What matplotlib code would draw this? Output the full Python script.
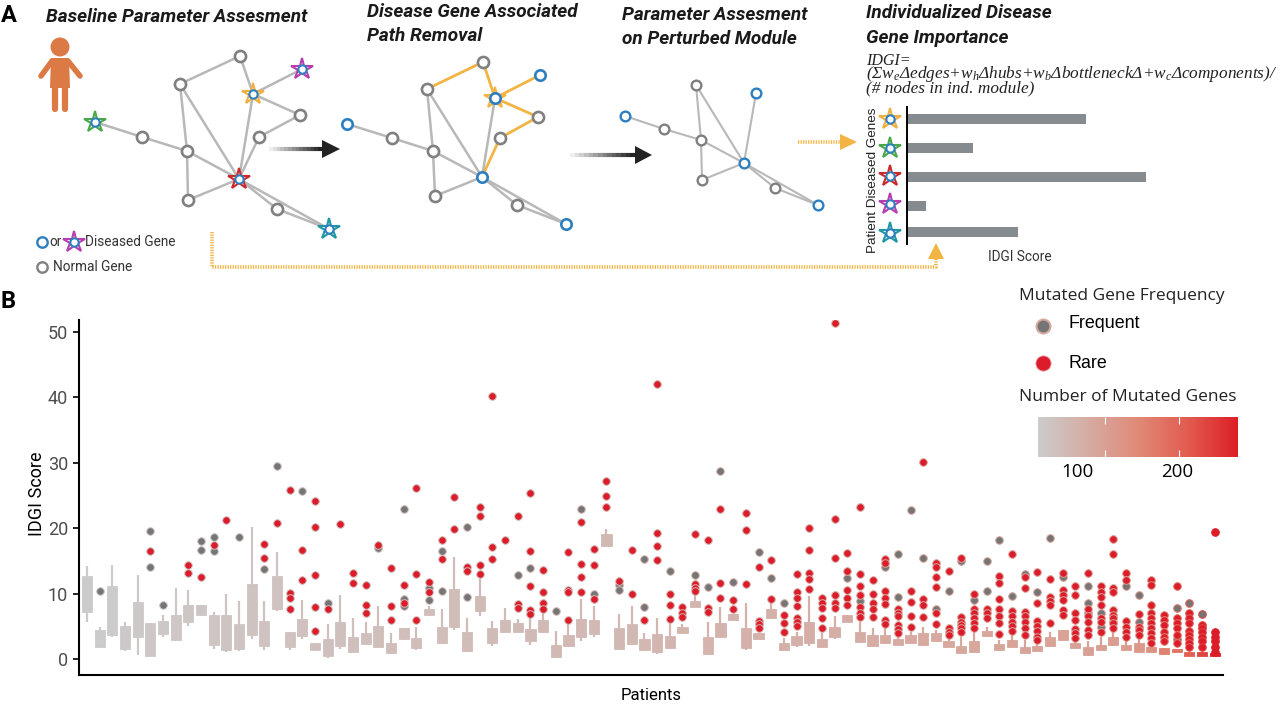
import matplotlib
matplotlib.use('Agg')
import matplotlib.pyplot as plt
import numpy as np
from matplotlib.colors import LinearSegmentedColormap
from matplotlib.patches import Circle, Polygon

plt.rcParams['font.family'] = ['Roboto', 'DejaVu Sans']
plt.rcParams['mathtext.fontset'] = 'custom'
plt.rcParams['mathtext.rm'] = 'Liberation Serif:italic'
plt.rcParams['mathtext.it'] = 'Liberation Serif:italic'
plt.rcParams['mathtext.default'] = 'it'

#=======================
#Patient data
#=======================

box_q3 = [12.7, 4.4, 11.1, 5.0, 8.7, 5.5, 5.8, 6.7, 8.2, 8.3,
          6.7, 6.8, 5.4, 11.5, 5.8, 12.7, 4.1, 6.1, 2.4, 3.1,
          5.7, 3.3, 3.9, 5.0, 2.5, 4.8, 3.2, 7.7, 4.9, 10.7,
          4.2, 9.7, 4.8, 5.9, 5.5, 4.6, 5.9, 2.1, 3.7, 6.1,
          5.9, 19.1, 4.7, 5.4, 3.0, 3.8, 3.5, 4.9, 8.9, 3.4,
          5.5, 6.9, 4.8, 4.0, 7.6, 2.5, 3.5, 5.6, 3.1, 4.9,
          6.8, 4.2, 3.7, 3.7, 3.1, 3.6, 3.9, 3.9, 2.7, 2.0,
          2.8, 4.3, 2.3, 2.9, 1.9, 2.0, 3.4, 4.4, 2.4, 1.8,
          2.2, 3.4, 2.2, 2.4, 1.8, 1.7, 1.6, 1.1, 1.0, 0.9]
box_q1 = [7.2, 1.9, 3.6, 1.5, 3.3, 0.4, 3.8, 2.9, 5.6, 6.8,
          2.2, 1.3, 1.6, 3.6, 2.0, 7.7, 1.8, 3.5, 1.3, 0.4,
          2.0, 1.0, 2.3, 1.9, 0.9, 3.1, 1.7, 6.7, 2.4, 4.9,
          1.2, 7.3, 2.4, 4.1, 4.1, 2.8, 4.2, 0.3, 2.0, 3.4,
          3.8, 17.3, 1.5, 2.3, 1.3, 1.1, 1.7, 3.9, 7.9, 0.8,
          3.4, 6.0, 1.7, 3.1, 6.2, 1.4, 2.1, 2.4, 1.9, 3.4,
          5.7, 2.6, 2.0, 2.5, 2.1, 2.5, 2.1, 2.8, 1.8, 0.9,
          1.1, 3.5, 1.4, 1.8, 0.9, 1.2, 2.0, 2.9, 1.7, 0.6,
          1.3, 2.1, 1.3, 1.1, 1.1, 0.7, 1.0, 0.4, 0.5, 0.4]
whisk_hi = [14.2, 4.9, 14.4, 5.6, 12.8, 5.5, 6.8, 10.8, 10.6, 8.3,
            7.2, 9.9, 8.9, 20.2, 8.9, 16.4, 4.1, 9.0, 2.4, 5.3,
            9.8, 6.3, 5.7, 8.1, 4.0, 4.8, 4.9, 8.1, 7.7, 15.6,
            6.2, 12.3, 5.8, 7.8, 6.1, 6.5, 7.2, 4.3, 5.6, 9.2,
            8.1, 19.9, 6.9, 8.1, 3.9, 6.2, 5.5, 5.4, 9.9, 5.7,
            7.9, 6.9, 8.6, 4.0, 8.5, 3.2, 4.1, 9.7, 4.0, 6.5,
            6.8, 5.7, 4.7, 4.9, 3.4, 4.2, 4.9, 4.5, 3.2, 3.3,
            4.2, 4.9, 2.9, 3.7, 2.9, 2.9, 4.2, 4.4, 2.9, 2.7,
            3.4, 4.4, 2.9, 3.4, 1.8, 1.7, 1.6, 1.1, 1.0, 0.9]
whisk_lo = [5.6, 1.8, 3.4, 1.2, 0.6, 0.4, 3.3, 2.7, 5.0, 6.6,
            1.6, 1.0, 1.2, 3.0, 1.4, 7.4, 1.4, 3.1, 1.3, 0.1,
            1.5, 1.0, 2.1, 1.8, 0.8, 2.9, 1.3, 6.7, 2.3, 4.5,
            1.1, 6.6, 2.0, 4.1, 4.1, 2.1, 4.0, 0.3, 2.0, 2.8,
            3.4, 17.3, 1.5, 2.2, 1.3, 0.8, 1.7, 3.9, 7.9, 0.8,
            3.2, 6.0, 1.4, 3.1, 6.2, 1.4, 1.8, 2.0, 1.9, 3.1,
            5.7, 2.6, 1.8, 2.5, 2.1, 2.5, 2.0, 2.8, 1.8, 0.9,
            1.0, 3.5, 1.4, 1.8, 0.9, 1.2, 2.0, 2.9, 1.7, 0.5,
            1.3, 2.0, 1.3, 1.0, 1.1, 0.6, 1.0, 0.4, 0.5, 0.4]
rare_genes = [
    [], [], [], [], [], [16.5], [], [], [14.3, 13.1], [12.5],
    [17.5], [21.3], [], [], [17.6, 15.5], [20.8], [25.8, 10.1, 9.4, 7.7], [16.7, 12.1],
    [24.2, 20.2, 12.9, 8.0, 4.3], [7.7],
    [20.7], [13.1, 11.6], [11.3, 8.3, 7.0], [17.5], [13.9, 8.1, 6.0], [11.3, 8.5],
    [26.1, 13.0, 6.0], [11.8, 10.3], [18.2, 15.3], [24.8, 19.9],
    [14.1, 13.5], [23.2, 21.9, 14.3, 13.0], [40.2, 17.2, 15.3], [18.2], [21.9, 8.4, 7.8],
    [25.4, 16.5, 11.1, 7.5, 6.9], [13.6, 10.2, 8.6, 7.7], [], [16.3, 10.5, 10.2, 6.0],
    [21.0, 14.5, 12.5, 10.2],
    [16.8, 14.3, 9.1], [27.3, 25.0, 23.3], [12.0], [16.6, 9.9], [6.0], [42.0, 19.3, 17.3, 15.1],
    [10.0, 8.2, 6.1], [7.9, 7.1, 6.4], [19.1, 11.4, 10.9, 10.4], [18.2, 7.8, 7.2],
    [23.0, 11.6, 9.3], [9.0, 7.7], [22.3, 19.8, 11.5], [14.1, 5.8, 5.4, 4.8], [15.1, 9.2],
    [6.7, 5.5, 4.1], [13.0, 10.3, 9.4, 8.1, 6.2, 5.6, 5.0], [20.0, 16.7, 13.2, 12.3, 10.7],
    [9.4, 8.6, 7.8, 6.2, 4.8], [51.4, 21.4, 15.5, 9.8, 8.5, 7.8],
    [16.2, 13.4, 10.6, 9.4, 8.2], [23.2, 13.0, 11.2, 9.8, 8.0, 7.1, 6.4],
    [12.1, 10.0, 8.6, 7.6, 6.4], [15.3, 14.7, 10.4, 9.3, 8.4, 6.0, 5.4],
    [7.7, 7.0, 6.5, 5.2, 4.6, 4.0], [10.4, 8.7, 6.6, 4.9], [30.1, 9.2, 8.2, 6.4],
    [14.7, 14.1, 12.5, 11.0, 7.0, 5.4], [13.4, 4.7, 4.2, 3.7], [15.5, 6.4, 5.7, 5.2, 4.7, 4.2],
    [10.0, 7.7, 7.0, 6.2, 5.5, 4.8], [7.7, 7.0, 6.2], [12.7, 11.6, 9.2, 7.6, 6.5, 5.5, 3.8],
    [16.0, 7.3, 6.5, 5.7, 5.0, 4.3], [12.6, 10.8, 7.2, 6.5, 5.7, 4.8, 3.7],
    [13.3, 8.5, 5.8, 5.0, 4.3, 3.4, 2.9], [12.2, 9.5, 8.8, 8.2, 5.5],
    [13.2, 10.6, 9.8, 9.0, 7.5, 6.7], [11.2, 9.8, 7.0, 5.9, 4.6, 3.9, 3.2],
    [13.1, 7.7, 6.5, 5.7, 4.4, 3.7],
    [11.1, 10.3, 9.5, 8.3, 6.2, 5.6, 4.2], [18.3, 16.1, 10.8, 10.3, 7.5, 6.7, 6.2, 5.5, 4.8],
    [13.2, 12.1, 5.8, 4.9, 4.2, 3.4], [6.9, 4.9, 4.4, 3.7],
    [12.1, 11.3, 8.2, 7.0, 6.2, 5.5, 4.7, 3.9, 3.2, 2.4],
    [6.7, 6.0, 5.2, 4.2, 3.4, 2.7], [11.2, 6.2, 5.5, 4.7, 3.7, 2.4],
    [7.0, 6.2, 5.5, 4.3, 3.7, 3.0, 2.4, 1.8], [5.2, 4.7, 4.2, 3.4, 2.7, 1.9],
    [19.4, 4.1, 3.4, 2.7, 1.9, 1.1]]
frequent_genes = [
    [], [10.4], [], [], [], [19.5, 14.1], [8.3], [], [], [18.0, 16.6],
    [18.6, 16.5], [], [18.7], [], [13.8], [29.5], [], [25.7], [], [8.5],
    [], [], [], [17.0], [], [22.9, 9.1, 8.1], [], [10.9, 9.0], [16.5, 10.4], [],
    [20.2, 9.5], [], [], [], [12.8], [13.9], [], [7.4], [], [23.0],
    [10.0], [], [11.3, 10.5], [], [15.3, 8.0], [], [13.4], [], [12.8], [11.0],
    [28.8], [11.7], [], [16.4], [12.4], [8.5], [], [], [], [],
    [12.4], [8.9], [], [14.1], [16.0, 9.5], [22.8], [15.4], [7.7], [10.4], [15.0],
    [9.0], [15.0, 10.4], [18.2], [9.6], [13.0], [10.3], [18.5], [12.6], [], [11.1, 8.6, 7.0],
    [7.0, 4.9], [5.7], [11.1], [9.8, 5.7], [], [], [7.8, 3.1], [8.6], [6.9], []]
n_genes = [62, 63, 64, 65, 66, 67, 68, 69, 70, 71,
           72, 73, 74, 75, 76, 76, 77, 78, 79, 80,
           80, 81, 82, 83, 83, 84, 84, 85, 85, 86,
           86, 87, 87, 88, 88, 89, 89, 90, 90, 91,
           91, 92, 93, 93, 94, 95, 96, 97, 98, 99,
           100, 100, 101, 102, 103, 104, 105, 106, 107, 108,
           109, 110, 111, 112, 113, 114, 115, 116, 117, 118,
           119, 120, 121, 122, 123, 124, 125, 126, 127, 128,
           130, 132, 135, 140, 150, 170, 185, 205, 230, 261]

#=======================
#Network drawings of panel A, in image pixels
#=======================

net1 = {'a': (240, 56), 'b': (180, 84), 'c': (253, 94), 'd': (302, 69), 'e': (300, 115),
        'f': (259, 137), 'g': (95, 122), 'h': (142, 137), 'i': (187, 151), 'j': (239, 179),
        'k': (188, 200), 'l': (277, 209), 'm': (329, 229)}
net2 = {'a': (483, 62), 'b': (427, 89), 'c': (495, 98), 'd': (540, 75), 'e': (538, 117),
        'f': (500, 138), 'g': (347, 124), 'h': (392, 138), 'i': (433, 151), 'j': (482, 177),
        'k': (435, 196), 'l': (517, 205), 'm': (566, 224)}
net3 = {'b': (696, 85), 'd': (756, 93), 'g': (625, 116), 'h': (664, 129), 'i': (701, 140),
        'j': (744, 163), 'k': (702, 180), 'l': (775, 188), 'm': (818, 205)}
removed_edges = ['ab', 'ac', 'cd', 'ce', 'ef', 'fj']
kept_edges = ['bi', 'gh', 'hi', 'ij', 'ik', 'kj', 'jl', 'lm', 'jm', 'bj']
star_colors = {'c': '#f0b040', 'd': '#b83db0', 'g': '#4aa84a', 'j': '#c92a2e', 'm': '#1f97a5'}
disease_nodes = ['c', 'd', 'g', 'j', 'm']

idgi_order = ['c', 'g', 'j', 'd', 'm']
idgi_scores = [179, 66, 239, 19, 111]
idgi_rows = [119, 148, 177, 206, 232]

GRAY_NODE = '#808080'
BLUE = '#2e7fbf'
EDGE = '#b8b8b8'
ORANGE = '#f2b544'
W, H = 1280, 705

cmap = LinearSegmentedColormap.from_list(
    'genes', ['#cccccc', '#d6aca3', '#e08a78', '#e25c50', '#dc1f26'])


def px_axes(x0, y0, x1, y1):
    return fig.add_axes([x0 / W, 1 - y1 / H, (x1 - x0) / W, (y1 - y0) / H])


def node(ax, xy, color=GRAY_NODE, size=8, mew=1.9):
    ax.plot(*xy, 'o', ms=size, mfc='white', mec=color, mew=mew, zorder=5)


def star(ax, xy, color, size=16):
    ax.plot(*xy, '*', ms=size, mfc='white', mec=color, mew=1.5, zorder=4)
    node(ax, xy, BLUE, 6, 1.5)


def draw_edges(ax, net, edges, color=EDGE, lw=1.8):
    for e in edges:
        p, q = net[e[0]], net[e[1]]
        ax.plot([p[0], q[0]], [p[1], q[1]], color=color, lw=lw, zorder=2, solid_capstyle='round')


def black_arrow(ax, x0, x1, head_x, y):
    steps = np.linspace(x0, head_x, 15)
    for k in range(14):
        ax.plot(steps[k:k + 2], [y, y], color='#222222', lw=3, alpha=(k + 1) / 14,
                solid_capstyle='butt')
    ax.add_patch(Polygon([(head_x, y - 9), (x1, y), (head_x, y + 9)], color='#222222', lw=0))


fig = plt.figure(figsize=(12.8, 7.05), dpi=100)

#=======================
#Panel B
#=======================

ax = px_axes(79, 320, 1223, 675)
patients = np.arange(len(box_q3))
colors = cmap((np.array(n_genes) - 61) / 200)

ax.vlines(patients, whisk_lo, whisk_hi, color=colors, lw=1.6, zorder=1)
ax.bar(patients, np.array(box_q3) - np.array(box_q1), bottom=box_q1, width=0.8,
       color=colors, edgecolor=colors, lw=0.6, zorder=2)
for i in patients:
    if frequent_genes[i]:
        ax.scatter([i] * len(frequent_genes[i]), frequent_genes[i], s=30, color='#757575',
                   edgecolor=colors[i], lw=0.7, zorder=3)
for i in patients:
    if rare_genes[i]:
        ax.scatter([i] * len(rare_genes[i]), rare_genes[i], s=30, color='#dc1c2a',
                   edgecolor=colors[i], lw=0.7, zorder=4)

ax.set_xlim(-0.63, 89.66)
ax.set_ylim(-2.45, 51.85)
ax.set_xticks([])
ax.set_yticks([0, 10, 20, 30, 40, 50])
ax.tick_params(axis='y', labelsize=13, labelcolor='#4d4d4d', length=4, width=1.2, pad=4)
for side in ['top', 'right']:
    ax.spines[side].set_visible(False)
for side in ['left', 'bottom']:
    ax.spines[side].set_linewidth(1.5)
ax.set_xlabel('Patients', fontsize=12, labelpad=9)
ax.set_ylabel('IDGI Score', fontsize=13, labelpad=1, y=0.51)

# colour bar legend
cax = px_axes(1038, 417, 1238, 457)
cax.imshow(np.linspace(0, 1, 256)[None, :], cmap=cmap, aspect='auto', extent=[61, 261, 0, 1])
cax.vlines([128, 202], 0, 0.18, color='white', lw=0.8)
cax.vlines([128, 202], 0.82, 1, color='white', lw=0.8)
cax.set_yticks([])
cax.set_xticks([100, 200])
cax.set_xticklabels(['100', '200'], fontsize=13.5, family=['Open Sans'])
cax.tick_params(axis='x', length=0, pad=4)
for s in cax.spines.values():
    s.set_visible(False)

#=======================
#Panel A, drawn on a pixel overlay
#=======================

ov = fig.add_axes([0, 0, 1, 1], facecolor='none')
ov.set_xlim(0, W)
ov.set_ylim(H, 0)
ov.axis('off')

# person
skin = '#dc7a45'
ov.add_patch(Circle((60, 47), 9.5, color=skin, lw=0))
ov.add_patch(Polygon([(51, 58), (69, 58), (70, 88), (50, 88)], color=skin, lw=0))
ov.plot([52, 41], [61, 76], color=skin, lw=4, solid_capstyle='round')
ov.plot([68, 80], [61, 76], color=skin, lw=4, solid_capstyle='round')
ov.plot([55, 55], [85, 109], color=skin, lw=4.5, solid_capstyle='round')
ov.plot([65, 65], [85, 109], color=skin, lw=4.5, solid_capstyle='round')

# first network
draw_edges(ov, net1, kept_edges + removed_edges + ['cj'])
for k, xy in net1.items():
    if k in disease_nodes:
        star(ov, xy, star_colors[k])
    else:
        node(ov, xy)

# second network, removed path in orange
draw_edges(ov, net2, kept_edges + ['cj'])
draw_edges(ov, net2, removed_edges, color=ORANGE, lw=2)
ov.plot(*net2['c'], '*', ms=16, mfc='none', mec=ORANGE, mew=1.5, zorder=4)
for k, xy in net2.items():
    if k in disease_nodes:
        node(ov, xy, BLUE, 7.5)
    else:
        node(ov, xy)

# third network
draw_edges(ov, net3, ['bi', 'gh', 'hi', 'ij', 'ik', 'kj', 'jl', 'lm', 'jm', 'bj', 'dj'], lw=1.5)
for k, xy in net3.items():
    if k in ['d', 'g', 'j', 'm']:
        node(ov, xy, BLUE, 7, 1.7)
    else:
        node(ov, xy, GRAY_NODE, 7, 1.7)

black_arrow(ov, 269, 340, 322, 149)
black_arrow(ov, 570, 652, 635, 155)

# orange dotted connectors
dots = (0, (0.35, 0.35))
ov.plot([212, 212, 936, 936], [232, 267, 267, 258], color=ORANGE, lw=2.6, ls=dots)
ov.add_patch(Polygon([(928, 259), (936, 243), (944, 259)], color=ORANGE, lw=0))
ov.plot([798, 840], [142, 142], color=ORANGE, lw=2.6, ls=dots)
ov.add_patch(Polygon([(840, 134), (857, 142), (840, 150)], color=ORANGE, lw=0))

# IDGI bars
ov.barh(idgi_rows, idgi_scores, left=907, height=10, color='#868b8f', zorder=2)
ov.plot([907, 907], [107, 244], color='black', lw=1.4, zorder=3)
for k, row in zip(idgi_order, [119, 148, 176, 204, 233]):
    star(ov, (890, row), star_colors[k], 16)

# legend of panel A
node(ov, (42, 242), BLUE, 7.5, 1.7)
star(ov, (74, 242), star_colors['d'], 16)
node(ov, (42, 267), GRAY_NODE, 7.5, 1.7)
ov.text(49, 242, 'or', fontsize=9.8, va='center', color='#333333')
ov.text(85, 242, 'Diseased Gene', fontsize=9.8, va='center', color='#333333')
ov.text(53, 267, 'Normal Gene', fontsize=9.8, va='center', color='#333333')
ov.text(988, 257, 'IDGI Score', fontsize=9.8, va='center', color='#333333')
ov.text(873, 180, 'Patient Diseased Genes', fontsize=9.7, rotation=90, ha='center', va='center',
        family=['Liberation Sans'], color='#222222')

# panel letters and step titles
ov.text(1, 15, 'A', fontsize=17, fontweight='bold', va='center')
ov.text(1, 302, 'B', fontsize=17, fontweight='bold', va='center')
title_style = dict(fontsize=13.7, fontweight='bold', fontstyle='italic', va='center', color='#1a1a1a')
ov.text(46, 17, 'Baseline Parameter Assesment', **title_style)
ov.text(367, 12, 'Disease Gene Associated', **title_style)
ov.text(367, 36, 'Path Removal', **title_style)
ov.text(622, 15, 'Parameter Assesment', **title_style)
ov.text(622, 39, 'on Perturbed Module', **title_style)
ov.text(866, 13, 'Individualized Disease', **title_style)
ov.text(866, 38, 'Gene Importance', **title_style)

formula_style = dict(fontsize=12.4, va='center', color='#222222', family=['Liberation Serif'], fontstyle='italic')
ov.text(866, 61, 'IDGI=', fontsize=11.5, va='center', color='#222222', family=['Liberation Serif'], fontstyle='italic')
ov.text(866, 74, '(Σw$_e$Δedges+w$_h$Δhubs+w$_b$ΔbottleneckΔ+w$_c$Δcomponents)/', **formula_style)
ov.text(866, 88, '(# nodes in ind. module)', **formula_style)

# legend of panel B
ov.text(1019, 296, 'Mutated Gene Frequency', fontsize=12.5, va='center', family=['Open Sans'], color='#222222')
ov.text(1019, 397, 'Number of Mutated Genes', fontsize=12.5, va='center', family=['Open Sans'], color='#222222')
ov.scatter([1043], [326], s=100, color='#757575', edgecolor='#d4a89e', lw=1.5)
ov.scatter([1043], [363], s=120, color='#dc1c2a', edgecolor='#e8a0a0', lw=0.6)
ov.text(1068, 323, 'Frequent', fontsize=12.9, va='center', family=['Liberation Sans'])
ov.text(1068, 363, 'Rare', fontsize=12.9, va='center', family=['Liberation Sans'])

fig.savefig('out.png', dpi=100)
